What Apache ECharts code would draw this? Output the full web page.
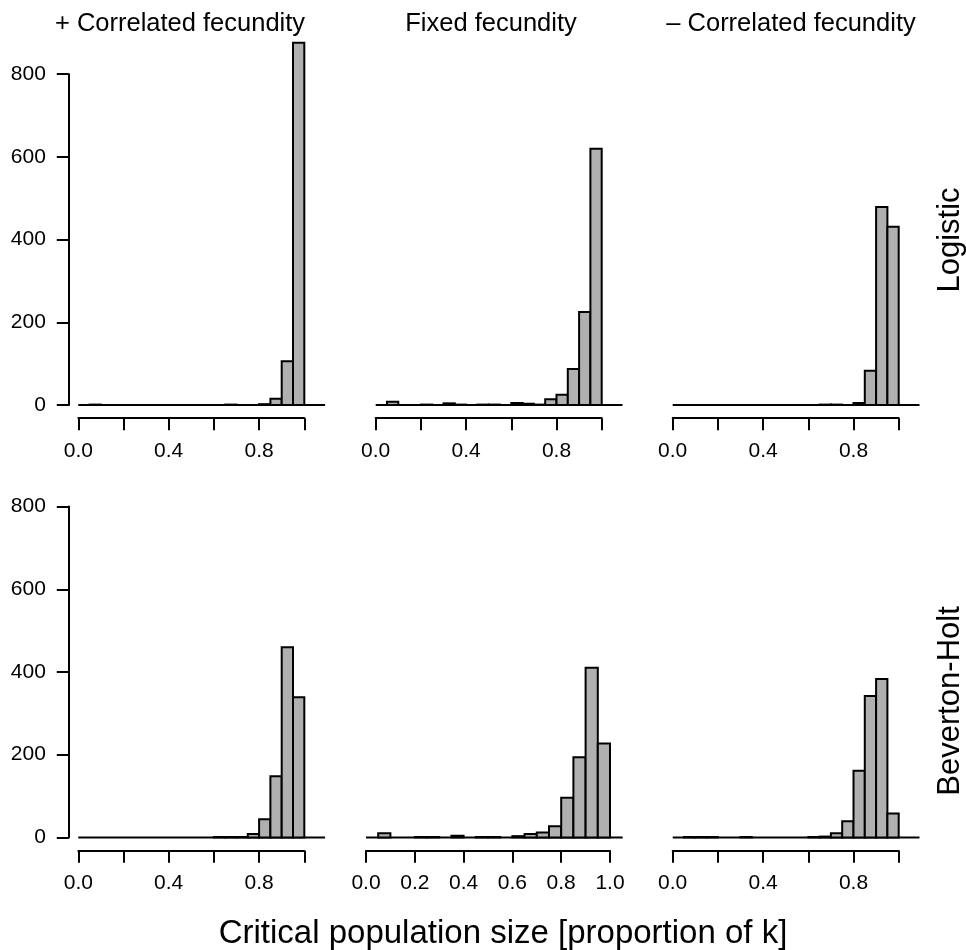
<!DOCTYPE html>
<html><head><meta charset="utf-8">
<script src="https://cdn.jsdelivr.net/npm/echarts@6/dist/echarts.min.js"></script>
<style>html,body{margin:0;padding:0;background:#fff}#c{width:966px;height:950px}</style>
</head><body><div id="c"></div>
<script>
// ---- data ----
const breaks = [0.00,0.05,0.10,0.15,0.20,0.25,0.30,0.35,0.40,0.45,0.50,0.55,0.60,0.65,0.70,0.75,0.80,0.85,0.90,0.95,1.00];
const colTitles = ['+ Correlated fecundity', 'Fixed fecundity', '\u2013 Correlated fecundity'];
const rowTitles = ['Logistic', 'Beverton-Holt'];
const xAxisTitle = 'Critical population size [proportion of k]';
// counts per bin (20 bins)
const logisticPlus  = [0,1,0,0,0,0,0,0,0,0,0,0,0,1,0,0,2,15,106,876];
const logisticFixed = [0,8,0,0,1,0,4,1,0,1,1,0,5,3,1,14,25,87,225,620];
const logisticMinus = [0,0,0,0,0,0,0,0,0,0,0,0,0,1,1,0,5,83,479,431];
const bhPlus        = [0,0,0,0,0,0,0,0,0,0,0,0,1,1,1,8,44,148,460,339];
const bhFixed       = [0,10,0,0,1,1,0,4,0,1,1,0,3,8,12,27,96,194,410,227];
const bhMinus       = [0,1,1,1,0,0,1,0,0,0,0,0,1,2,10,39,161,342,383,58];
const yTicks = [0,200,400,600,800];
const xTicks = [0,0.2,0.4,0.6,0.8,1.0];
const xLabelsSparse = [0,0.4,0.8];
const xLabelsFull = [0,0.2,0.4,0.6,0.8,1.0];

const panelData = [[logisticPlus, logisticFixed, logisticMinus],[bhPlus, bhFixed, bhMinus]];

// ---- layout ----
const FONT = "'Liberation Sans', Arial, Helvetica, sans-serif";
const sy = 0.4135;            // px per count
const rowZero = [405, 837.4]; // y pixel of count 0
const yLo = -32, yHi = 832;
const layouts = [
  [ {x0:78.3, s:226, xMin:-0.042, xMax:1.092, labels:xLabelsSparse},
    {x0:375.7, s:226, xMin:-0.042, xMax:1.092, labels:xLabelsSparse},
    {x0:672.7, s:226, xMin:-0.042, xMax:1.092, labels:xLabelsSparse} ],
  [ {x0:78.3, s:226, xMin:-0.042, xMax:1.092, labels:xLabelsSparse},
    {x0:366, s:244, xMin:-0.0405, xMax:1.052, labels:xLabelsFull},
    {x0:672.7, s:226, xMin:-0.042, xMax:1.092, labels:xLabelsSparse} ]
];

const grids = [], xAxes = [], yAxes = [], series = [];
function addGrid(g, xa, ya){ grids.push(g); const i = grids.length-1; xa.gridIndex=i; ya.gridIndex=i; xAxes.push(xa); yAxes.push(ya); return {xi:xAxes.length-1, yi:yAxes.length-1}; }

for (let r=0;r<2;r++){
  for (let c=0;c<3;c++){
    const L = layouts[r][c];
    const z0 = rowZero[r];
    // data grid: full plot region
    const idx = addGrid(
      {left: L.x0 + L.xMin*L.s, width:(L.xMax-L.xMin)*L.s, top: z0 - yHi*sy, height:(yHi-yLo)*sy},
      {type:'value', min:L.xMin, max:L.xMax, show:false},
      {type:'value', min:yLo, max:yHi, show:false}
    );
    const counts = panelData[r][c];
    const rows = [];
    for (let i=0;i<counts.length;i++){ if (counts[i]>0) rows.push([breaks[i], breaks[i+1], counts[i]]); }
    series.push({
      type:'line', xAxisIndex:idx.xi, yAxisIndex:idx.yi, z:1, silent:true,
      data:[[breaks[0],0],[L.xMax,0]], symbol:'none',
      lineStyle:{color:'#000', width:2}
    });
    series.push({
      type:'custom', xAxisIndex:idx.xi, yAxisIndex:idx.yi, z:3, silent:true,
      encode:{x:[0,1], y:2},
      data: rows,
      renderItem:function(params, api){
        const p0 = api.coord([api.value(0), api.value(2)]);
        const p1 = api.coord([api.value(1), 0]);
        return {type:'rect', shape:{x:p0[0], y:p0[1], width:p1[0]-p0[0], height:p1[1]-p0[1]},
                style:{fill:'#b0b0b0', stroke:'#000', lineWidth:2}};
      }
    });
    // x axis grid (0..1)
    const bottom = z0 - yLo*sy;
    addGrid(
      {left:L.x0, width:L.s, top:bottom-10, height:10},
      {type:'value', min:0, max:1, position:'bottom',
       axisLine:{show:true, lineStyle:{color:'#000', width:2}},
       axisTick:{show:true, length:12, customValues:xTicks, lineStyle:{color:'#000', width:2}},
       axisLabel:{show:true, customValues:L.labels, formatter:v=>Number(v).toFixed(1), fontSize:21, color:'#000', fontFamily:FONT, margin:22},
       splitLine:{show:false}},
      {type:'value', show:false}
    );
    // y axis (left column only)
    if (c===0){
      addGrid(
        {left:L.x0 + L.xMin*L.s, width:10, top: z0 - 800*sy, height: 800*sy},
        {type:'value', show:false},
        {type:'value', min:0, max:800, interval:200, position:'left',
         axisLine:{show:true, lineStyle:{color:'#000', width:2}},
         axisTick:{show:true, length:12, lineStyle:{color:'#000', width:2}},
         axisLabel:{show:true, fontSize:21, color:'#000', fontFamily:FONT, margin:23,
                    customValues:yTicks, formatter:v=>String(v)},
         splitLine:{show:false}}
      );
    }
  }
}

const graphics = [
  {type:'text', x:180, y:24, style:{text:colTitles[0], font:'25.5px '+FONT, fill:'#000', textAlign:'center', textVerticalAlign:'middle'}},
  {type:'text', x:491, y:24, style:{text:colTitles[1], font:'25.5px '+FONT, fill:'#000', textAlign:'center', textVerticalAlign:'middle'}},
  {type:'text', x:791, y:24, style:{text:colTitles[2], font:'25.5px '+FONT, fill:'#000', textAlign:'center', textVerticalAlign:'middle'}},
  {type:'text', x:950, y:240, rotation:Math.PI/2, style:{text:rowTitles[0], font:'31px '+FONT, fill:'#000', textAlign:'center', textVerticalAlign:'middle'}},
  {type:'text', x:950, y:701, rotation:Math.PI/2, style:{text:rowTitles[1], font:'31px '+FONT, fill:'#000', textAlign:'center', textVerticalAlign:'middle'}},
  {type:'text', x:503, y:934, style:{text:xAxisTitle, font:'33px '+FONT, fill:'#000', textAlign:'center', textVerticalAlign:'middle'}}
];

const chart = echarts.init(document.getElementById('c'), null, {renderer:'canvas'});
chart.setOption({
  animation:false,
  backgroundColor:'#fff',
  grid:grids, xAxis:xAxes, yAxis:yAxes, series:series, graphic:graphics
});
</script></body></html>
